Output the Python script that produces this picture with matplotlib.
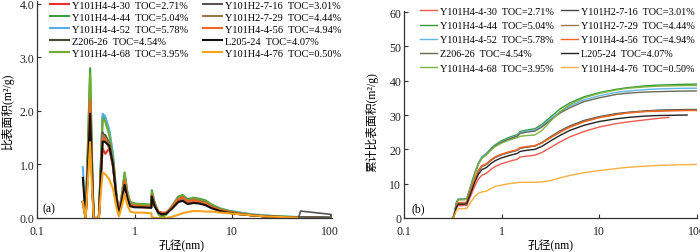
import numpy as np
import matplotlib
matplotlib.use("Agg")
import matplotlib.pyplot as plt
from matplotlib.ticker import FixedLocator, NullLocator

plt.rcParams['font.family'] = ['Liberation Serif', 'Noto Sans CJK SC']

# ---------------- data ----------------
NAMES = ["Y101H4-4-30  TOC=2.71%", "Y101H4-4-44  TOC=5.04%", "Y101H4-4-52  TOC=5.78%",
         "Z206-26  TOC=4.54%", "Y101H4-4-68  TOC=3.95%",
         "Y101H2-7-16  TOC=3.01%", "Y101H2-7-29  TOC=4.44%", "Y101H4-4-56  TOC=4.94%",
         "L205-24  TOC=4.07%", "Y101H4-4-76  TOC=0.50%"]

# pore size (nm) for the differential curves (a)
DIFF_X = [0.295, 0.315, 0.335, 0.35, 0.365, 0.38, 0.43, 0.45, 0.47, 0.50, 0.55, 0.60, 0.65,
          0.69, 0.74, 0.79, 0.84, 0.90, 1.0, 1.2, 1.48, 1.50, 1.6, 1.75, 1.9, 2.1, 2.4, 2.8,
          3.1, 3.5, 4.0, 4.6, 5.3, 6.2, 7.5, 9, 12, 16, 22, 30, 45, 70, 100]

D_4_30 = [0.3, 0.0, 1.0, 1.8, 0.8, 0.0, 0.0, 0.7, 1.3, 1.2, 1.3, 0.95, 0.38, 0.1, 0.36, 0.68, 0.4, 0.23,
          0.21, 0.2, 0.2, 0.4, 0.24, 0.12, 0.1, 0.1, 0.18, 0.3, 0.33, 0.27, 0.3, 0.28, 0.25, 0.19, 0.14,
          0.1, 0.07, 0.05, 0.03, 0.02, 0.01, 0.005, 0.0]
D_4_44 = [0.3, 0.0, 1.6, 2.8, 1.2, 0.0, 0.0, 1.0, 1.9, 1.85, 1.6, 1.15, 0.45, 0.08, 0.45, 0.85, 0.5, 0.3,
          0.27, 0.26, 0.25, 0.52, 0.3, 0.1, 0.02, 0.08, 0.22, 0.4, 0.43, 0.35, 0.38, 0.36, 0.33, 0.25,
          0.18, 0.14, 0.1, 0.06, 0.04, 0.03, 0.015, 0.01, 0.005]
D_4_52 = [0.95, 0.0, 1.3, 2.35, 1.0, 0.0, 0.0, 1.0, 1.95, 1.9, 1.65, 1.2, 0.45, 0.08, 0.42, 0.8, 0.47, 0.28,
          0.25, 0.24, 0.23, 0.45, 0.27, 0.08, 0.01, 0.07, 0.2, 0.36, 0.4, 0.32, 0.35, 0.33, 0.3, 0.23,
          0.17, 0.13, 0.1, 0.07, 0.05, 0.03, 0.02, 0.01, 0.005]
D_Z206 = [0.3, 0.0, 1.3, 2.3, 0.95, 0.0, 0.0, 0.8, 1.55, 1.55, 1.4, 1.05, 0.4, 0.08, 0.38, 0.7, 0.42, 0.25,
          0.23, 0.22, 0.21, 0.43, 0.25, 0.1, 0.05, 0.08, 0.2, 0.36, 0.4, 0.32, 0.35, 0.32, 0.29, 0.22,
          0.16, 0.12, 0.08, 0.05, 0.03, 0.02, 0.01, 0.005, 0.0]
D_4_68 = [0.3, 0.0, 1.5, 2.7, 1.1, 0.0, 0.0, 0.95, 1.85, 1.8, 1.55, 1.1, 0.42, 0.07, 0.42, 0.82, 0.48, 0.28,
          0.26, 0.25, 0.24, 0.48, 0.28, 0.08, 0.0, 0.06, 0.2, 0.38, 0.42, 0.33, 0.37, 0.34, 0.31, 0.24,
          0.17, 0.13, 0.09, 0.06, 0.04, 0.03, 0.015, 0.01, 0.005]
D_2_7_16 = [0.3, 0.0, 1.2, 2.1, 0.9, 0.0, 0.0, 0.85, 1.6, 1.5, 1.4, 1.0, 0.4, 0.09, 0.36, 0.68, 0.4, 0.24,
            0.22, 0.21, 0.2, 0.42, 0.24, 0.1, 0.06, 0.09, 0.19, 0.34, 0.37, 0.3, 0.33, 0.31, 0.28, 0.21,
            0.15, 0.11, 0.08, 0.05, 0.03, 0.02, 0.01, 0.005, 0.0]
D_2_7_29 = [0.3, 0.0, 1.25, 2.2, 0.9, 0.0, 0.0, 0.82, 1.55, 1.5, 1.38, 1.02, 0.4, 0.09, 0.37, 0.7, 0.41, 0.25,
            0.23, 0.22, 0.21, 0.43, 0.25, 0.11, 0.07, 0.09, 0.2, 0.36, 0.4, 0.32, 0.35, 0.32, 0.29, 0.22,
            0.16, 0.12, 0.08, 0.05, 0.03, 0.02, 0.01, 0.005, 0.0]
D_4_56 = [0.3, 0.0, 1.2, 2.2, 0.9, 0.0, 0.0, 0.8, 1.5, 1.45, 1.3, 1.0, 0.4, 0.1, 0.38, 0.7, 0.42, 0.25,
          0.23, 0.22, 0.21, 0.42, 0.25, 0.12, 0.08, 0.1, 0.2, 0.35, 0.38, 0.3, 0.33, 0.3, 0.27, 0.2,
          0.15, 0.11, 0.08, 0.05, 0.03, 0.02, 0.01, 0.005, 0.0]
D_L205 = [0.75, 0.0, 1.1, 1.95, 0.85, 0.0, 0.0, 0.75, 1.43, 1.42, 1.35, 1.0, 0.38, 0.07, 0.33, 0.62, 0.38, 0.22,
          0.2, 0.2, 0.19, 0.4, 0.22, 0.1, 0.07, 0.08, 0.17, 0.3, 0.32, 0.26, 0.28, 0.27, 0.24, 0.18,
          0.13, 0.1, 0.07, 0.05, 0.03, 0.02, 0.01, 0.005, 0.0]
D_4_76 = [0.3, 0.0, 0.8, 1.42, 0.6, 0.0, 0.0, 0.45, 0.85, 0.82, 0.72, 0.55, 0.2, 0.03, 0.22, 0.45, 0.25, 0.12,
          0.1, 0.1, 0.09, 0.02, 0.0, 0.0, 0.0, 0.0, 0.02, 0.06, 0.09, 0.11, 0.13, 0.13, 0.12, 0.12,
          0.1, 0.09, 0.07, 0.05, 0.03, 0.02, 0.01, 0.005, 0.0]

# closed loop of Y101H2-7-16 at large pores
LOOP_X = [48, 50, 100, 105, 105, 48]
LOOP_Y = [0.02, 0.13, 0.07, 0.06, 0.01, 0.02]

# pore size (nm) for the cumulative curves (b)
CUM_X = [0.315, 0.325, 0.345, 0.36, 0.40, 0.44, 0.48, 0.53, 0.58, 0.63, 0.70, 0.78, 0.86, 1.0, 1.2,
         1.45, 1.55, 1.8, 2.2, 2.6, 3.2, 4.0, 5.0, 7.0, 10, 15, 20, 30, 40, 52, 65, 80, 100]
nan = np.nan
C_4_30 = [0, 0.3, 2.9, 3.6, 3.6, 3.7, 6.3, 9.2, 11.4, 12.5, 13.0, 14.2, 15.0, 15.8, 16.5, 17.1, 17.8,
          18.0, 18.3, 19.1, 20.6, 22.2, 23.6, 25.2, 26.5, 27.5, 28.0, 28.6, 29.0, 29.3, nan, nan, nan]
C_4_44 = [0, 0.5, 4.5, 5.5, 5.5, 5.6, 9.0, 13.0, 16.0, 17.8, 18.8, 20.3, 21.3, 22.5, 23.5, 24.3, 25.2,
          25.6, 26.0, 27.3, 29.5, 31.8, 33.5, 35.3, 36.5, 37.5, 38.0, 38.5, 38.7, 38.8, 38.9, 38.95, 39.0]
C_4_52 = [0, 0.8, 4.6, 5.6, 5.6, 5.7, 9.1, 13.1, 16.1, 17.8, 18.7, 20.1, 21.1, 22.2, 23.2, 24.0, 24.9,
          25.3, 25.6, 26.8, 29.0, 31.0, 32.6, 34.4, 35.6, 36.6, 37.0, 37.4, 37.6, 37.7, 37.75, 37.8, 37.8]
C_Z206 = [0, 0.4, 4.4, 5.4, 5.4, 5.5, 8.9, 12.8, 15.8, 17.5, 18.5, 20.0, 21.0, 22.1, 23.0, 23.8, 24.6,
          25.0, 25.3, 26.5, 28.6, 30.6, 32.1, 33.9, 35.0, 36.0, 36.4, 36.7, 36.8, 36.9, 36.95, 37.0, 37.0]
C_4_68 = [0, 0.4, 4.3, 5.3, 5.3, 5.4, 8.8, 12.7, 15.7, 17.4, 18.4, 19.8, 20.8, 21.8, 22.7, 23.4, 23.8,
          24.0, 24.2, 25.5, 28.3, 31.0, 33.0, 35.0, 36.3, 37.3, 37.8, 38.2, 38.4, 38.5, 38.55, 38.6, 38.6]
C_2_7_16 = [0, 0.4, 3.5, 4.4, 4.4, 4.5, 7.6, 11.0, 13.6, 15.0, 15.6, 16.8, 17.6, 18.4, 19.1, 19.7, 20.3,
            20.6, 21.0, 22.0, 23.7, 25.4, 26.8, 28.4, 29.5, 30.4, 30.8, 31.2, 31.4, 31.5, 31.55, 31.6, 31.6]
C_2_7_29 = [0, 0.4, 3.5, 4.4, 4.4, 4.5, 7.7, 11.1, 13.8, 15.1, 15.7, 16.9, 17.7, 18.5, 19.2, 19.8, 20.4,
            20.7, 21.0, 21.9, 23.5, 25.2, 26.6, 28.2, 29.3, 30.2, 30.7, 31.1, 31.2, 31.3, 31.35, 31.4, 31.4]
C_4_56 = [0, 0.4, 3.6, 4.5, 4.5, 4.6, 7.8, 11.3, 14.0, 15.3, 15.8, 17.0, 17.8, 18.6, 19.3, 19.9, 20.5,
          20.8, 21.1, 21.9, 23.4, 25.0, 26.4, 28.0, 29.2, 30.1, 30.6, 31.0, 31.1, 31.2, 31.25, 31.3, 31.3]
C_L205 = [0, 0.6, 3.2, 4.0, 4.0, 4.1, 7.0, 10.3, 12.8, 14.1, 14.7, 15.9, 16.7, 17.5, 18.2, 18.8, 19.4,
          19.7, 20.0, 20.9, 22.5, 24.1, 25.5, 27.0, 28.1, 28.9, 29.3, 29.7, 29.85, 29.9, 29.95, 30.0, nan]
C_4_76 = [0, 0.3, 2.2, 2.7, 2.7, 2.8, 4.5, 6.2, 7.2, 7.6, 7.8, 8.6, 9.2, 9.6, 10.0, 10.3, 10.4,
          10.4, 10.4, 10.5, 10.9, 11.7, 12.4, 13.2, 13.8, 14.4, 14.8, 15.1, 15.3, 15.4, 15.5, 15.55, 15.6]

COLORS_A = ['#e8302a', '#3b9e3a', '#55aee6', '#4b4b32', '#72ad2e',
            '#5a5555', '#9a7a4a', '#f26522', '#111111', '#f7a31c']
COLORS_B = ['#f05a50', '#2f9a33', '#62b6ea', '#6a6a50', '#7cb342',
            '#4a4646', '#9a7a4a', '#f26522', '#222222', '#f8b040']

DIFF = [D_4_30, D_4_44, D_4_52, D_Z206, D_4_68, D_2_7_16, D_2_7_29, D_4_56, D_L205, D_4_76]
CUM = [C_4_30, C_4_44, C_4_52, C_Z206, C_4_68, C_2_7_16, C_2_7_29, C_4_56, C_L205, C_4_76]
DRAW_ORDER = [5, 6, 3, 7, 0, 8, 2, 4, 1, 9]

XTICKS = [0.1, 1, 10, 100]
XTICKLABELS = ["0.1", "1", "10", "100"]

# ---------------- figure ----------------
fig = plt.figure(figsize=(7.0, 2.53), dpi=100)
W, H = 700.0, 253.0
axA = fig.add_axes([37 / W, 34 / H, 295 / W, 216.7 / H])
axB = fig.add_axes([404 / W, 34 / H, 293 / W, 207 / H])

spine_c = '#333333'
for ax in (axA, axB):
    ax.set_xscale('log')
    for s in ('top', 'right'):
        ax.spines[s].set_visible(False)
    for s in ('left', 'bottom'):
        ax.spines[s].set_color(spine_c)
        ax.spines[s].set_linewidth(0.9)
    ax.xaxis.set_major_locator(FixedLocator(XTICKS))
    ax.set_xticklabels(XTICKLABELS)
    ax.xaxis.set_minor_locator(NullLocator())
    ax.tick_params(direction='in', length=3, width=0.8, colors=spine_c,
                   labelcolor='#222222', labelsize=8.5, pad=2)
    ax.tick_params(axis='x', pad=5)

# (a)
handles = [None] * 10
for i in DRAW_ORDER:
    ln, = axA.plot(DIFF_X, DIFF[i], color=COLORS_A[i], lw=1.5, label=NAMES[i], zorder=2 + i * 0.01)
    handles[i] = ln
axA.plot(LOOP_X, LOOP_Y, color=COLORS_A[5], lw=1.2, zorder=3)
axA.set_xlim(0.1, 105)
axA.set_ylim(0, 4.05)
axA.set_yticks([0, 1, 2, 3, 4])
axA.set_yticklabels(["0.0", "1.0", "2.0", "3.0", "4.0"])
axA.set_ylabel("比表面积(m²/g)", fontsize=8.5)
axA.yaxis.set_label_coords(-0.078, 0.5)
axA.set_xlabel("孔径(nm)", fontsize=8.5)
axA.xaxis.set_label_coords(0.49, -0.095)
axA.text(0.02, 0.046, "(a)", transform=axA.transAxes, fontsize=8.5, va='center', ha='left')
axA.legend(handles=handles, ncol=2, loc='upper left', bbox_to_anchor=(0.044, 1.003),
           frameon=False, fontsize=7.5, handlelength=1.8, handletextpad=0.3,
           columnspacing=1.4, labelspacing=0.25, borderpad=0, borderaxespad=0)

# (b)
handlesB = [None] * 10
for i in DRAW_ORDER:
    ln, = axB.plot(CUM_X, CUM[i], color=COLORS_B[i], lw=1.0, label=NAMES[i], zorder=2 + i * 0.01)
    handlesB[i] = ln
axB.set_xlim(0.1, 101)
axB.set_ylim(0, 60.3)
axB.set_yticks([0, 10, 20, 30, 40, 50, 60])
axB.set_ylabel("累计比表面积(m²/g)", fontsize=8.5)
axB.yaxis.set_label_coords(-0.089, 0.47)
axB.set_xlabel("孔径(nm)", fontsize=8.5)
axB.xaxis.set_label_coords(0.5, -0.1)
axB.text(0.027, 0.048, "(b)", transform=axB.transAxes, fontsize=8.5, va='center', ha='left')
axB.legend(handles=handlesB, ncol=2, loc='upper left', bbox_to_anchor=(0.055, 1.02),
           frameon=False, fontsize=7.3, handlelength=1.65, handletextpad=0.3,
           columnspacing=0.7, labelspacing=0.5, borderpad=0, borderaxespad=0)

fig.savefig("out.png", dpi=100)
